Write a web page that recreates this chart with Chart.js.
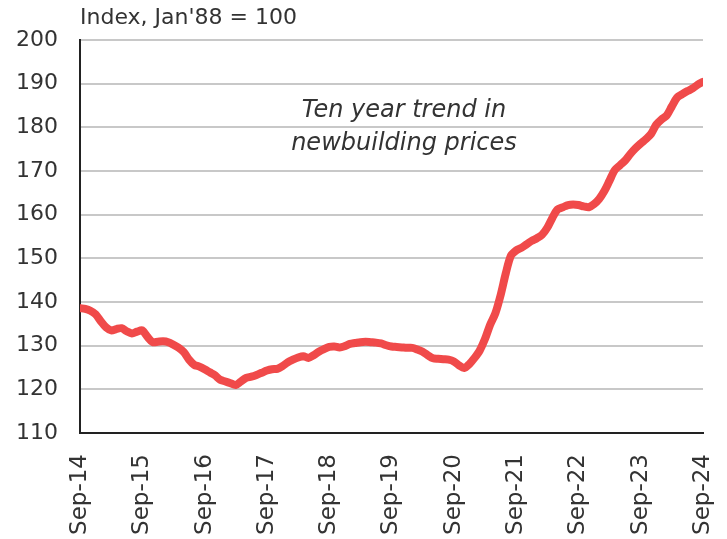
<!DOCTYPE html>
<html>
<head>
<meta charset="utf-8">
<script src="https://cdn.jsdelivr.net/npm/chart.js@4.4.1/dist/chart.umd.min.js"></script>
<style>
  html, body { margin: 0; padding: 0; background: #fff; }
  #wrap { width: 727px; height: 539px; position: relative; }
</style>
</head>
<body>
<div id="wrap"><canvas id="priceChart"></canvas></div>
<script>
// monthly index values, Sep-14 .. Sep-24
const PRICE_INDEX = [
  138.6, 138.4, 138.0, 137.2, 135.6, 134.2, 133.5, 133.8, 134.0, 133.3, 132.8, 133.2,
  133.5, 132.0, 130.8, 130.9, 131.0, 130.8, 130.2, 129.5, 128.5, 126.8, 125.6, 125.2,
  124.6, 123.9, 123.2, 122.2, 121.8, 121.4, 121.0, 121.8, 122.6, 122.9, 123.3, 123.8,
  124.3, 124.6, 124.7, 125.3, 126.2, 126.8, 127.3, 127.6, 127.2, 127.8, 128.6, 129.2,
  129.7, 129.8, 129.6, 129.9, 130.4, 130.6, 130.8, 130.9, 130.8, 130.7, 130.5, 130.1,
  129.8, 129.7, 129.6, 129.5, 129.5, 129.1, 128.6, 127.8, 127.1, 127.0, 126.9, 126.8,
  126.4, 125.5, 124.9, 125.8, 127.2, 128.9, 131.5, 134.8, 137.4, 141.5, 146.5, 150.6,
  151.8, 152.4, 153.2, 154.0, 154.6, 155.4, 157.0, 159.3, 161.2, 161.7, 162.2, 162.3,
  162.2, 161.9, 161.7, 162.4, 163.6, 165.4, 167.8, 170.2, 171.3, 172.4, 173.9, 175.2,
  176.3, 177.3, 178.5, 180.6, 181.8, 182.7, 184.8, 186.8, 187.6, 188.3, 188.9, 189.8,
  190.4
];
const TICK_LABELS = ["Sep-14","Sep-15","Sep-16","Sep-17","Sep-18","Sep-19","Sep-20","Sep-21","Sep-22","Sep-23","Sep-24"];
const Y_MIN = 110, Y_MAX = 200, Y_STEP = 10;
const UNIT_LABEL = "Index, Jan'88 = 100";
const NOTE_LINES = ["Ten year trend in", "newbuilding prices"];

const FONT = "'DejaVu Sans', sans-serif";
const TEXT = "#333333";

// unit label above the axis + italic note inside the plot
const textPlugin = {
  id: 'textPlugin',
  afterDraw(chart) {
    const { ctx, chartArea, scales } = chart;
    ctx.save();
    ctx.fillStyle = TEXT;
    ctx.textBaseline = 'middle';
    ctx.font = `22px ${FONT}`;
    ctx.textAlign = 'left';
    ctx.fillText(UNIT_LABEL, chartArea.left, 18);

    ctx.font = `oblique 24px ${FONT}`;
    ctx.textAlign = 'center';
    const nx = scales.x.getPixelForValue(62.4);
    ctx.fillText(NOTE_LINES[0], nx, scales.y.getPixelForValue(183.9));
    ctx.fillText(NOTE_LINES[1], nx, scales.y.getPixelForValue(176.3));
    ctx.restore();
  }
};

const ctx = document.getElementById('priceChart').getContext('2d');
const chart = new Chart(ctx, {
  type: 'line',
  data: {
    datasets: [{
      data: PRICE_INDEX.map((y, i) => ({ x: i, y })),
      borderColor: '#f04a4a',
      borderWidth: 8,
      pointRadius: 0,
      tension: 0.3,
      borderCapStyle: 'round',
      borderJoinStyle: 'round'
    }]
  },
  options: {
    responsive: true,
    maintainAspectRatio: false,
    animation: false,
    layout: { padding: { top: 40, right: 24, left: 0, bottom: 0 } },
    plugins: { legend: { display: false }, tooltip: { enabled: false } },
    scales: {
      x: {
        type: 'linear',
        min: 0,
        max: 120,
        afterFit: s => {
          s.height = 106;
          // rotated edge labels need no extra side room
          s.paddingLeft = 0;
          s.paddingRight = 0;
        },
        afterBuildTicks: s => { s.ticks = TICK_LABELS.map((_, i) => ({ value: i * 12 })); },
        ticks: {
          autoSkip: false,
          minRotation: 90,
          maxRotation: 90,
          padding: 13,
          color: TEXT,
          font: { family: FONT, size: 23 },
          callback: v => TICK_LABELS[v / 12]
        },
        grid: { display: false },
        border: { display: true, color: '#222', width: 2 }
      },
      y: {
        min: Y_MIN,
        max: Y_MAX,
        afterFit: s => { s.width = 80; },
        ticks: {
          stepSize: Y_STEP,
          padding: 22,
          color: TEXT,
          font: { family: FONT, size: 22 }
        },
        grid: { color: '#c8c8c8', lineWidth: 2, drawTicks: false },
        border: { display: true, color: '#222', width: 2 }
      }
    }
  },
  plugins: [textPlugin]
});
</script>
</body>
</html>
